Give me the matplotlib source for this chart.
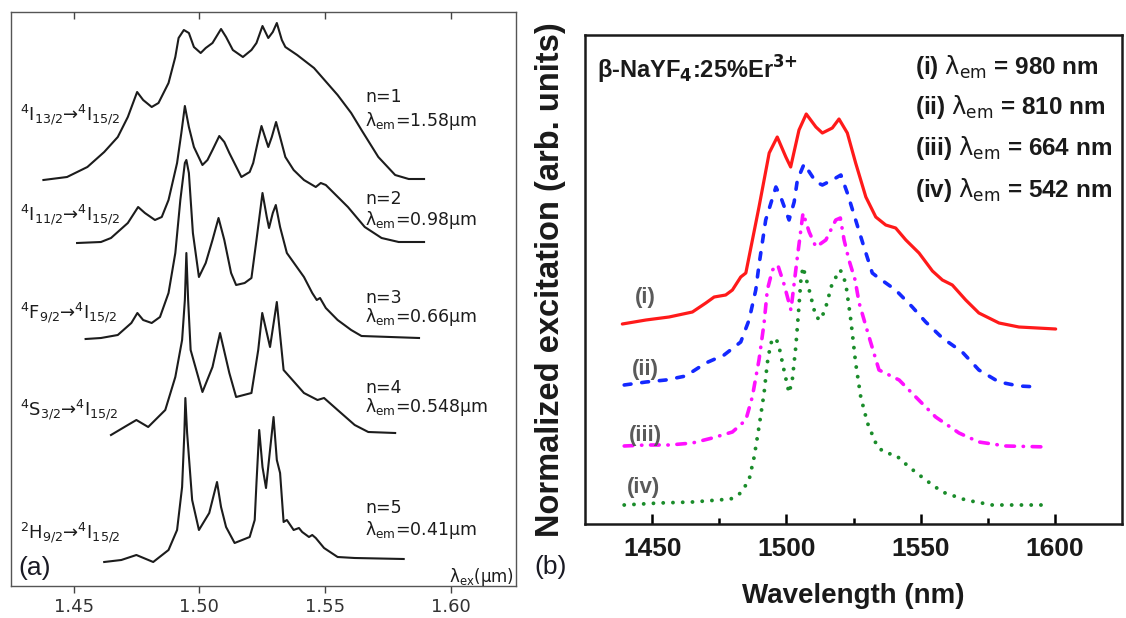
import matplotlib
matplotlib.use("Agg")
import matplotlib.pyplot as plt
from matplotlib.ticker import FixedLocator

plt.rcParams["font.family"] = ["Liberation Sans", "DejaVu Sans"]

# ---------- (a) excitation spectra for emission from different levels (wavelength in um) ----------
wl_n1 = [1.4379, 1.4473, 1.4554, 1.4621, 1.4675, 1.4715, 1.4752, 1.4776, 1.4810, 1.4837,
         1.4877, 1.4904, 1.4917, 1.4938, 1.4958, 1.4978, 1.5005, 1.5025, 1.5052, 1.5086,
         1.5106, 1.5133, 1.5173, 1.5207, 1.5227, 1.5251, 1.5274, 1.5292, 1.5308, 1.5328,
         1.5342, 1.5389, 1.5456, 1.5550, 1.5604, 1.5645, 1.5712, 1.5779, 1.5833, 1.5894]
I_n1 = [406, 409, 419, 434, 449, 469, 494, 486, 479, 483,
        503, 529, 548, 556, 553, 539, 533, 538, 543, 557,
        549, 536, 529, 536, 543, 560, 548, 554, 563, 546,
        539, 531, 518, 491, 473, 456, 429, 411, 407, 407]

wl_n2 = [1.4513, 1.4608, 1.4648, 1.4715, 1.4756, 1.4783, 1.4823, 1.4850, 1.4877, 1.4911,
         1.4928, 1.4942, 1.4958, 1.4978, 1.5012, 1.5032, 1.5052, 1.5079, 1.5099, 1.5119,
         1.5167, 1.5200, 1.5214, 1.5234, 1.5247, 1.5261, 1.5274, 1.5288, 1.5305, 1.5321,
         1.5342, 1.5375, 1.5416, 1.5463, 1.5483, 1.5503, 1.5523, 1.5591, 1.5658, 1.5725,
         1.5793, 1.5894]
I_n2 = [343, 344, 348, 363, 379, 373, 366, 369, 386, 423,
        453, 480, 459, 439, 421, 426, 436, 450, 444, 433,
        409, 414, 423, 446, 460, 449, 439, 449, 464, 449,
        429, 416, 406, 399, 403, 401, 396, 379, 359, 348,
        344, 344]

wl_n3 = [1.4547, 1.4608, 1.4675, 1.4729, 1.4753, 1.4776, 1.4810, 1.4843, 1.4877, 1.4904,
         1.4924, 1.4942, 1.4948, 1.4958, 1.4974, 1.4998, 1.5025, 1.5052, 1.5076, 1.5099,
         1.5126, 1.5146, 1.5180, 1.5207, 1.5227, 1.5251, 1.5268, 1.5277, 1.5292, 1.5304,
         1.5321, 1.5348, 1.5416, 1.5449, 1.5467, 1.5480, 1.5503, 1.5550, 1.5604, 1.5645,
         1.5874]
I_n3 = [247, 248, 251, 263, 273, 266, 263, 269, 293, 333,
        386, 423, 426, 413, 353, 309, 323, 346, 368, 346,
        313, 301, 303, 308, 346, 393, 369, 358, 373, 381,
        359, 333, 309, 293, 286, 288, 278, 266, 256, 250,
        248]

wl_n4 = [1.4648, 1.4715, 1.4749, 1.4796, 1.4864, 1.4904, 1.4931, 1.4942, 1.4948, 1.4955,
         1.4965, 1.5012, 1.5052, 1.5082, 1.5119, 1.5146, 1.5207, 1.5234, 1.5250, 1.5281,
         1.5308, 1.5335, 1.5416, 1.5470, 1.5496, 1.5550, 1.5618, 1.5672, 1.5779]
I_n4 = [151, 161, 166, 159, 176, 209, 246, 286, 333, 286,
        236, 194, 219, 253, 213, 189, 193, 236, 273, 239,
        284, 216, 193, 186, 188, 176, 161, 154, 153]

wl_n5 = [1.4621, 1.4689, 1.4749, 1.4816, 1.4877, 1.4911, 1.4931, 1.4940, 1.4944, 1.4951,
         1.4971, 1.4998, 1.5039, 1.5070, 1.5086, 1.5106, 1.5140, 1.5200, 1.5220, 1.5227,
         1.5238, 1.5251, 1.5265, 1.5281, 1.5295, 1.5308, 1.5321, 1.5335, 1.5348, 1.5375,
         1.5396, 1.5409, 1.5436, 1.5449, 1.5463, 1.5496, 1.5550, 1.5618, 1.5813]
I_n5 = [24, 26, 31, 24, 36, 56, 99, 153, 188, 153,
        86, 56, 73, 104, 79, 59, 43, 49, 66, 103,
        156, 119, 98, 136, 169, 126, 113, 64, 66, 56,
        58, 54, 49, 51, 48, 38, 29, 28, 27]

transitions = [r"$^4$I$_{13/2}$→$^4$I$_{15/2}$", r"$^4$I$_{11/2}$→$^4$I$_{15/2}$",
               r"$^4$F$_{9/2}$→$^4$I$_{15/2}$", r"$^4$S$_{3/2}$→$^4$I$_{15/2}$",
               r"$^2$H$_{9/2}$→$^4$I$_{15/2}$"]
orders = ["n=1", "n=2", "n=3", "n=4", "n=5"]
em_um = ["1.58", "0.98", "0.66", "0.548", "0.41"]
ticks_a = [1.45, 1.50, 1.55, 1.60]
ticklabels_a = ["1.45", "1.50", "1.55", "1.60"]

# ---------- (b) beta-NaYF4:25%Er3+ excitation spectra (wavelength in nm) ----------
wl_i = [1438.9, 1447.7, 1456.3, 1465.0, 1470.0, 1473.1, 1477.4, 1479.9, 1483.0, 1484.9,
        1489.8, 1493.6, 1496.6, 1499.8, 1501.6, 1504.7, 1507.4, 1511.0, 1513.4, 1517.1,
        1519.6, 1522.7, 1525.8, 1529.6, 1533.3, 1537.0, 1540.7, 1544.5, 1549.4, 1554.4,
        1558.1, 1561.8, 1566.8, 1571.7, 1579.2, 1586.6, 1600.3]
I_i = [200, 204, 207, 212, 221, 227, 229, 234, 247, 251,
       317, 371, 387, 367, 357, 394, 410, 397, 391, 396,
       405, 391, 361, 327, 307, 299, 296, 284, 271, 253,
       244, 239, 224, 211, 201, 197, 195]

wl_ii = [1439.6, 1447.7, 1455.1, 1462.5, 1470.0, 1476.8, 1483.0, 1486.1, 1488.6, 1489.8,
         1492.3, 1496.1, 1497.9, 1501.0, 1502.9, 1504.1, 1506.6, 1511.0, 1513.4, 1517.1,
         1520.3, 1522.7, 1525.8, 1528.9, 1532.0, 1533.9, 1540.7, 1546.9, 1551.9, 1558.1,
         1565.5, 1571.7, 1579.2, 1586.6, 1594.1]
I_ii = [139, 142, 144, 148, 161, 169, 182, 204, 234, 259,
        304, 337, 327, 304, 322, 344, 360, 342, 339, 344,
        349, 331, 304, 277, 251, 247, 234, 217, 202, 186,
        172, 154, 142, 138, 137]

wl_iii = [1439.6, 1447.7, 1456.3, 1465.0, 1472.4, 1479.9, 1484.9, 1487.3, 1489.8, 1491.7,
          1492.9, 1494.8, 1496.8, 1499.1, 1501.7, 1504.0, 1506.2, 1508.5, 1511.0, 1514.7,
          1518.4, 1520.1, 1521.5, 1523.3, 1525.6, 1527.1, 1530.8, 1534.5, 1542.0, 1548.2,
          1555.6, 1564.3, 1571.7, 1581.7, 1597.8]
I_iii = [78, 79, 79, 81, 86, 92, 104, 127, 164, 201,
         234, 254, 259, 240, 214, 265, 311, 292, 277, 284,
         304, 306, 284, 264, 244, 221, 187, 154, 144, 127,
         107, 91, 82, 78, 77]

wl_iv = [1439.6, 1452.6, 1465.0, 1479.3, 1483.0, 1486.1, 1488.0, 1489.8, 1491.7, 1492.9,
         1494.2, 1496.1, 1497.3, 1499.1, 1501.0, 1502.2, 1503.5, 1504.5, 1505.4, 1506.2,
         1508.5, 1511.0, 1512.8, 1514.7, 1517.1, 1520.1, 1522.1, 1524.0, 1525.8, 1527.7,
         1530.2, 1533.9, 1537.0, 1540.7, 1545.7, 1551.9, 1558.1, 1566.8, 1576.7, 1597.8]
I_iv = [19, 21, 22, 25, 31, 44, 67, 97, 131, 161,
        181, 186, 177, 154, 131, 144, 177, 211, 244, 257,
        234, 207, 204, 217, 241, 254, 241, 204, 161, 127,
        101, 77, 71, 69, 57, 44, 32, 24, 19, 19]

em_tags = ["(i)", "(ii)", "(iii)", "(iv)"]
em_nm = [980, 810, 664, 542]
ticks_b = [1450, 1500, 1550, 1600]
minor_b = [1475, 1525, 1575]

W, H = 1126, 618
fig = plt.figure(figsize=(W / 100, H / 100), dpi=100)


def fx(x):
    return x / W


def fy(y):
    return 1 - y / H


# ---- panel (a) ----
axa = fig.add_axes([fx(11), fy(586), fx(516) - fx(11), fy(12) - fy(586)])
ink = "#1c1c1c"
for wl, inten in [(wl_n1, I_n1), (wl_n2, I_n2), (wl_n3, I_n3), (wl_n4, I_n4), (wl_n5, I_n5)]:
    axa.plot(wl, inten, color=ink, lw=1.5, solid_joinstyle="round")
axa.set_xlim(1.425, 1.626)
axa.set_ylim(0, 574)
axa.set_yticks([])
axa.set_xticks(ticks_a)
axa.set_xticklabels(ticklabels_a, fontsize=13, color="#333333", family="DejaVu Sans")
axa.tick_params(axis="x", direction="out", length=5, width=1, pad=4, color="#444444")
for s in axa.spines.values():
    s.set_color("#555555")
    s.set_linewidth(1.0)
# inward ticks along the top edge
axt = axa.twiny()
axt.set_xlim(axa.get_xlim())
axt.set_xticks(ticks_a)
axt.set_xticklabels([])
axt.tick_params(axis="x", direction="in", length=5, width=1, color="#444444")
for s in axt.spines.values():
    s.set_visible(False)

trans_y = [115, 215, 313, 410, 533]
order_y = [97, 199, 298, 388, 508]
em_y = [121, 220, 317, 407, 530]
for k in range(5):
    fig.text(fx(20), fy(trans_y[k]), transitions[k], fontsize=13, va="center", ha="left",
             family="DejaVu Sans", color=ink)
    fig.text(fx(365), fy(order_y[k]), orders[k], fontsize=12.5, va="center", ha="left",
             family="DejaVu Sans", color=ink)
    fig.text(fx(365), fy(em_y[k]), "λ$_{\\rm em}$=" + em_um[k] + "µm", fontsize=12.5,
             va="center", ha="left", family="DejaVu Sans", color=ink)
fig.text(fx(514), fy(577), "λ$_{\\rm ex}$(µm)", fontsize=12, va="center", ha="right",
         family="DejaVu Sans", color=ink)
fig.text(fx(18), fy(568), "(a)", fontsize=19, va="center", ha="left", color="#1a1a24")

# ---- panel (b) ----
axb = fig.add_axes([fx(585), fy(524), fx(1122) - fx(585), fy(35) - fy(524)])
axb.plot(wl_i, I_i, color="#ff1a1a", lw=2.3, solid_capstyle="round",
         solid_joinstyle="round")
axb.plot(wl_ii, I_ii, color="#1428ff", lw=2.6, linestyle=(0, (1.9, 3.0)),
         dash_capstyle="round")
axb.plot(wl_iii, I_iii, color="#ff10ff", lw=2.6, linestyle=(0, (2.4, 2.4, 0.1, 2.4)),
         dash_capstyle="round")
axb.plot(wl_iv, I_iv, color="#1a8c2a", lw=2.8, linestyle=(0, (0.01, 2.5)),
         dash_capstyle="round")
axb.set_xlim(1425, 1625)
axb.set_ylim(0, 489)
axb.set_yticks([])
axb.xaxis.set_major_locator(FixedLocator(ticks_b))
axb.xaxis.set_minor_locator(FixedLocator(minor_b))
axb.tick_params(axis="x", which="major", direction="in", length=7, width=1.8, pad=9,
                labelsize=19)
axb.tick_params(axis="x", which="minor", direction="in", length=4, width=1.8)
for lab in axb.get_xticklabels():
    lab.set_fontweight("bold")
    lab.set_color("#1a1a1a")
for s in axb.spines.values():
    s.set_linewidth(1.8)
    s.set_color("#1a1a1a")
axb.set_xlabel("Wavelength (nm)", fontsize=20, fontweight="bold", color="#1a1a1a", labelpad=16)
axb.set_ylabel("Normalized excitation (arb. units)", fontsize=23.5, fontweight="bold",
               color="#1a1a1a", labelpad=14)

fig.text(fx(597), fy(70), r"β-NaYF$_\mathbf{4}$:25%Er$^{\mathbf{3}\mathbf{+}}$", fontsize=17,
         fontweight="bold", va="center", ha="left", color="#1a1a1a")
legend_y = [67, 107, 148, 190]
for tag, nm, y in zip(em_tags, em_nm, legend_y):
    fig.text(fx(915), fy(y), tag + r" $\mathrm{\lambda}_{\rm em}$ = " + f"{nm} nm",
             fontsize=17.5, fontweight="bold", va="center", ha="left", color="#1a1a1a")

curve_label_x = [645, 645, 645, 643]
curve_label_y = [298, 370, 435, 488]
for tag, x, y in zip(em_tags, curve_label_x, curve_label_y):
    fig.text(fx(x), fy(y), tag, fontsize=16, fontweight="bold", va="center", ha="center",
             color="#5a5a5a")
fig.text(fx(534), fy(567), "(b)", fontsize=19, va="center", ha="left", color="#1a1a24")

fig.savefig("out.png", dpi=100)
